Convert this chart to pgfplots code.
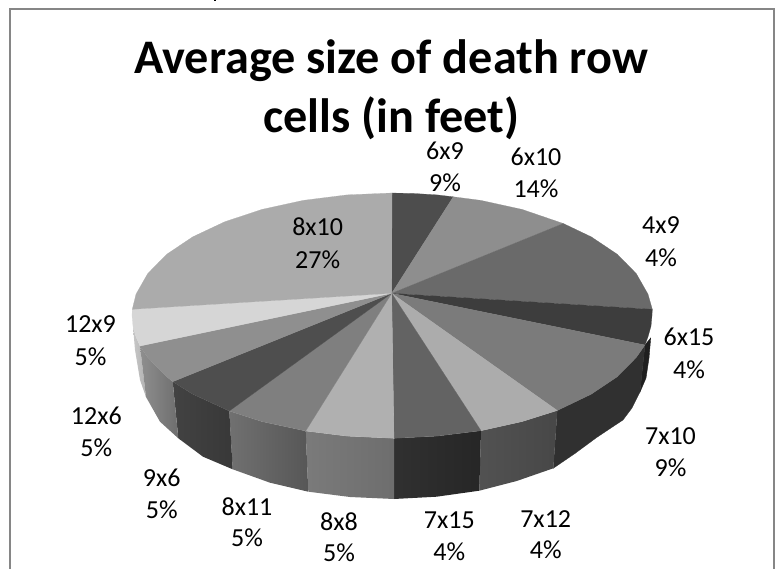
\documentclass[border=0pt]{standalone}
\usepackage{pgfplots}
\pgfplotsset{compat=1.18}
\usepackage{fontspec}
\setmainfont{Carlito}
\definecolor{frame}{HTML}{868686}
\definecolor{a1}{HTML}{4D4D4D}
\definecolor{a2}{HTML}{8E8E8E}
\definecolor{a3}{HTML}{6A6A6A}
\definecolor{a4}{HTML}{3D3D3D}
\definecolor{a5}{HTML}{7B7B7B}
\definecolor{a6}{HTML}{ACACAC}
\definecolor{a7}{HTML}{636363}
\definecolor{a8}{HTML}{B0B0B0}
\definecolor{a9}{HTML}{7F7F7F}
\definecolor{a10}{HTML}{4E4E4E}
\definecolor{a11}{HTML}{8F8F8F}
\definecolor{a12}{HTML}{D6D6D6}
\definecolor{a13}{HTML}{ABABAB}
\newcommand{\lab}[5]{%
  \node[anchor=base,inner sep=0pt,font=\fontsize{26}{26}\selectfont] at (axis cs:#1,#2) {#3};
  \node[anchor=base,inner sep=0pt,font=\fontsize{26}{26}\selectfont] at (axis cs:#1,#4) {#5};}
\begin{document}
\begin{tikzpicture}
\begin{axis}[scale only axis,width=776pt,height=569pt,xmin=0,xmax=776,ymin=0,ymax=569,y dir=reverse,hide axis,clip=true]
\addplot[draw=none] coordinates {(0,0)(776,569)};
% frame
\addplot[frame,line width=2pt] coordinates {(10,569)(10,9)(774,9)(774,569)};
\addplot[black,line width=1.5pt] coordinates {(215,0)(215,1.5)};
% walls
\addplot[left color=black!22,right color=black!30,draw=none] coordinates {(140,346)(136,336.8)(133,326.2)(135,350)(140,380)(146,397)} --cycle;
\addplot[fill=black!88,draw=black!88] coordinates {(645,345)(650.7,338)(649,358)(646,378)(640,392)} --cycle;
\addplot[fill=black!81,draw=black!81,line width=.2pt] coordinates {(645,345)(636.3,357.4)(617.2,376.8)(591.2,394.2)(557.3,410.5)(553.3,468.3)(575,453.5)(596.7,437.5)(623,420)(632,408)(640,392)} --cycle;
\addplot[left color=black!68,right color=black!72,draw=none] coordinates {(557.3,410.5)(522,421.6)(481,430.7)(479.3,490.7)(516.7,481)(553.3,468.3)} --cycle;
\addplot[left color=black!81,right color=black!85,draw=none] coordinates {(481,430.7)(437.1,436.1)(394,438.3)(394,499)(436.7,496.7)(479.3,490.7)} --cycle;
\addplot[left color=black!52,right color=black!57,draw=none] coordinates {(394,438.3)(346.9,436.1)(305.7,431)(308.3,491.7)(350,497)(394,499)} --cycle;
\addplot[left color=black!56,right color=black!66,draw=none] coordinates {(305.7,431)(262,421.6)(229.3,411)(232.7,469.3)(270,482.7)(308.3,491.7)} --cycle;
\addplot[left color=black!74,right color=black!78,draw=none] coordinates {(229.3,411)(192.8,394.2)(172.7,381.7)(178.3,438.3)(203,456.7)(232.7,469.3)} --cycle;
\addplot[left color=black!44,right color=black!57,draw=none] coordinates {(172.7,381.7)(166.8,376.8)(147.7,357.4)(140,346)(146,397)(160,421.7)(178.3,438.3)} --cycle;
% tops
\addplot[fill=a1,draw=a1,line width=.2pt] coordinates {(391.7,293.3)(392,193)(414,193.5)(437.1,194.9)(453.3,196.8)} --cycle;
\addplot[fill=a2,draw=a2,line width=.2pt] coordinates {(391.7,293.3)(453.3,196.8)(480.9,200.4)(522,209.4)(563.3,223.5)} --cycle;
\addplot[fill=a3,draw=a3,line width=.2pt] coordinates {(391.7,293.3)(563.3,223.5)(591.2,236.8)(617.2,254.2)(636.3,273.6)(648,294.2)(652.3,309.3)} --cycle;
\addplot[fill=a4,draw=a4,line width=.2pt] coordinates {(391.7,293.3)(652.3,309.3)(652,315.5)(651,326.2)(648,336.8)(645,345)} --cycle;
\addplot[fill=a5,draw=a5,line width=.2pt] coordinates {(391.7,293.3)(645,345)(636.3,357.4)(617.2,376.8)(591.2,394.2)(557.3,410.5)} --cycle;
\addplot[fill=a6,draw=a6,line width=.2pt] coordinates {(391.7,293.3)(557.3,410.5)(522,421.6)(481,430.7)} --cycle;
\addplot[fill=a7,draw=a7,line width=.2pt] coordinates {(391.7,293.3)(481,430.7)(437.1,436.1)(394,438.3)} --cycle;
\addplot[fill=a8,draw=a8,line width=.2pt] coordinates {(391.7,293.3)(394,438.3)(346.9,436.1)(305.7,431)} --cycle;
\addplot[fill=a9,draw=a9,line width=.2pt] coordinates {(391.7,293.3)(305.7,431)(262,421.6)(229.3,411)} --cycle;
\addplot[fill=a10,draw=a10,line width=.2pt] coordinates {(391.7,293.3)(229.3,411)(192.8,394.2)(172.7,381.7)} --cycle;
\addplot[fill=a11,draw=a11,line width=.2pt] coordinates {(391.7,293.3)(172.7,381.7)(166.8,376.8)(147.7,357.4)(140,346)} --cycle;
\addplot[fill=a12,draw=a12,line width=.2pt] coordinates {(391.7,293.3)(140,346)(136,336.8)(133,326.2)(132,315.5)(132.3,309.3)} --cycle;
\addplot[fill=a13,draw=a13,line width=.2pt] coordinates {(391.7,293.3)(132.3,309.3)(136,294.2)(147.7,273.6)(166.8,254.2)(192.8,236.8)(224.9,221.7)(262,209.4)(303.1,200.4)(346.9,194.9)(392,193)} --cycle;
% title
\node[anchor=base,inner sep=0pt,font=\fontsize{48.2}{48.2}\selectfont\bfseries] at (axis cs:391.4,74) {Average size of death row};
\node[anchor=base,inner sep=0pt,font=\fontsize{48.2}{48.2}\selectfont\bfseries] at (axis cs:391.4,132.7) {cells (in feet)};
% labels
\lab{317.7}{236}{8x10}{269}{27\%}
\lab{445}{159.3}{6x9}{192}{9\%}
\lab{536}{165.7}{6x10}{197.7}{14\%}
\lab{661}{234}{4x9}{266.7}{4\%}
\lab{689}{345.7}{6x15}{378.3}{4\%}
\lab{670.5}{444}{7x10}{476}{9\%}
\lab{545.7}{527.3}{7x12}{558.3}{4\%}
\lab{449.3}{528.3}{7x15}{560}{4\%}
\lab{339}{530}{8x8}{561.7}{5\%}
\lab{247}{515}{8x11}{546.7}{5\%}
\lab{161.7}{486.7}{9x6}{518.3}{5\%}
\lab{96.3}{424.3}{12x6}{456}{5\%}
\lab{90.5}{332.3}{12x9}{365}{5\%}
\end{axis}
\end{tikzpicture}
\end{document}
